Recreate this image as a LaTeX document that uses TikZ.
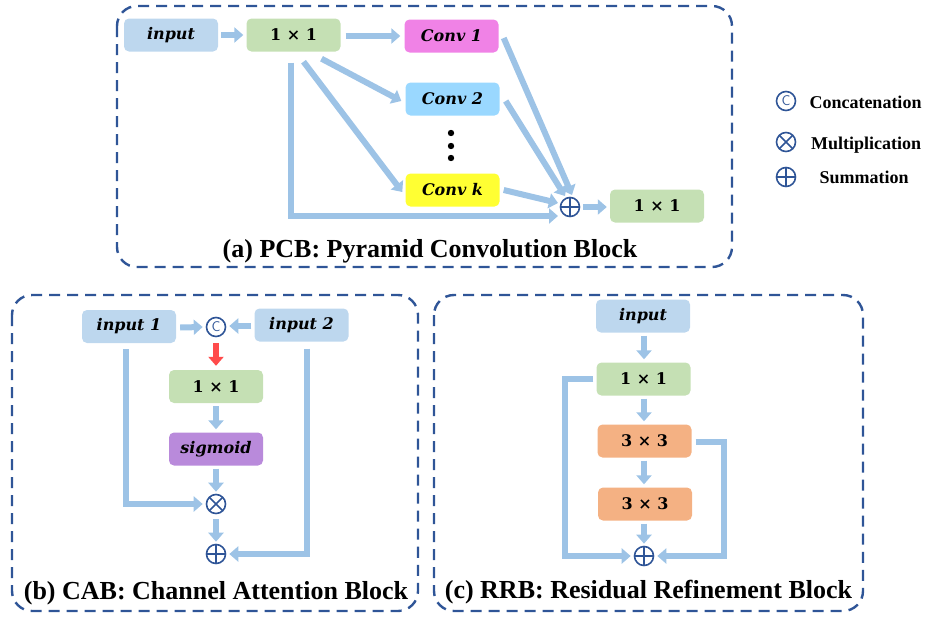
\documentclass[tikz,border=0pt]{standalone}
\usepackage{fontspec}
\setmainfont{Liberation Serif}
\newfontfamily\boxfont{DejaVu Serif}
\usetikzlibrary{arrows.meta,calc}
\definecolor{bblue}{HTML}{BDD7EE}
\definecolor{bgreen}{HTML}{C5E0B4}
\definecolor{cmag}{HTML}{F082E6}
\definecolor{csky}{HTML}{9AD8FF}
\definecolor{cyel}{HTML}{FFFF33}
\definecolor{cpurp}{HTML}{B98ADB}
\definecolor{corange}{HTML}{F4B183}
\definecolor{arrc}{HTML}{9DC3E6}
\definecolor{redc}{HTML}{FF4B4B}
\definecolor{dashc}{HTML}{2F5597}
\definecolor{symc}{HTML}{2F5597}
\tikzset{
  blk/.style={rounded corners=5pt, minimum width=94pt, minimum height=33pt, inner sep=0pt,
    font=\boxfont\bfseries\fontsize{16}{16}\selectfont},
  itx/.style={font=\boxfont\bfseries\itshape\fontsize{16}{16}\selectfont},
  arr/.style={draw=arrc, line width=6pt, -{Triangle[width=15pt,length=9pt]}},
  redarr/.style={draw=redc, line width=6pt, -{Triangle[width=15pt,length=9pt]}},
  panel/.style={draw=dashc, line width=2.4pt, dash pattern=on 11pt off 7pt, rounded corners=20pt},
  sym/.style={circle, draw=symc, line width=1.6pt, minimum size=19pt, inner sep=0pt},
  oplus/.style={sym, path picture={\draw[symc,line width=1.6pt]
     (path picture bounding box.north) -- (path picture bounding box.south)
     (path picture bounding box.west) -- (path picture bounding box.east);}},
  otimes/.style={sym, path picture={\draw[symc,line width=1.6pt]
     (path picture bounding box.north west) -- (path picture bounding box.south east)
     (path picture bounding box.south west) -- (path picture bounding box.north east);}},
  ccat/.style={sym, text=symc, font=\sffamily\fontsize{14}{14}\selectfont},
  ttl/.style={anchor=base, font=\bfseries\fontsize{26}{26}\selectfont},
  leg/.style={anchor=base, font=\bfseries\fontsize{18}{18}\selectfont},
}
\begin{document}
\begin{tikzpicture}[x=1pt,y=-1pt]
\useasboundingbox (0,0) rectangle (925,616);

% ---------------- Panel (a)
\draw[panel] (117,6) rectangle (732,267);
\node[blk,fill=bblue,itx] (ain) at (171,35) {input};
\node[blk,fill=bgreen] (a11) at (293.5,35) {1 × 1};
\node[blk,fill=cmag,itx] (ac1) at (451.5,36) {Conv 1};
\node[blk,fill=csky,itx] (ac2) at (452.5,99) {Conv 2};
\node[blk,fill=cyel,itx] (ack) at (452.5,190) {Conv k};
\node[oplus] (aplus) at (570,207) {};
\node[blk,fill=bgreen] (aout) at (657,206) {1 × 1};
\fill (451,133) circle (3.2pt) (451,146) circle (3.2pt) (451,158) circle (3.2pt);
\node[ttl] (atitle) at (430,257) {(a) PCB: Pyramid Convolution Block};

\draw[arr] ($(ain.east)+(3,0)$) -- ($(a11.west)+(-3,0)$);
\draw[arr] ($(a11.east)+(5,1)$) -- ($(ac1.west)+(-4,0)$);
\draw[arr] ($(a11.south)+(28,7)$) -- ($(ac2.west)+(-4,2)$);
\draw[arr] ($(a11.south)+(10,10)$) -- ($(ack.west)+(-3,2)$);
\draw[arr] ($(a11.south)+(-3,11)$) |- ($(aplus.center)+(-12,9)$);
\draw[arr] ($(ac1.east)+(5,2)$) -- ($(aplus.center)+(2,-12)$);
\draw[arr] ($(ac2.east)+(6,2)$) -- ($(aplus.center)+(-5,-11)$);
\draw[arr] ($(ack.east)+(4,0)$) -- ($(aplus.center)+(-12,-4)$);
\draw[arr] ($(aplus.east)+(3,0)$) -- ($(aout.west)+(-3,1)$);

% ---------------- Legend
\node[ccat] (lcat) at (786,101) {C};
\node[otimes] (ltimes) at (786,142) {};
\node[oplus] (lplus) at (786,177) {};
\node[leg] (lt1) at (865.5,108) {Concatenation};
\node[leg] (lt2) at (866,149) {Multiplication};
\node[leg] (lt3) at (864,183) {Summation};

% ---------------- Panel (b)
\draw[panel] (12,295) rectangle (418,611);
\node[blk,fill=bblue,itx] (bin1) at (129,326.5) {input 1};
\node[blk,fill=bblue,itx] (bin2) at (301.5,325) {input 2};
\node[ccat] (bcat) at (216,327) {C};
\node[blk,fill=bgreen] (b11) at (216,386.5) {1 × 1};
\node[blk,fill=cpurp,itx] (bsig) at (216,449) {sigmoid};
\node[otimes] (btimes) at (216,504) {};
\node[oplus] (bplus) at (216,554) {};
\node[ttl] (btitle) at (216,599) {(b) CAB: Channel Attention Block};

\draw[arr] ($(bin1.east)+(4,1)$) -- ($(bcat.west)+(-3,0)$);
\draw[arr] ($(bin2.west)+(-3,1)$) -- ($(bcat.east)+(3,-1)$);
\draw[redarr] ($(bcat.south)+(0,6)$) -- ($(b11.north)+(0,-4)$);
\draw[arr] ($(b11.south)+(0,3)$) -- ($(bsig.north)+(0,-3)$);
\draw[arr] ($(bsig.south)+(0,3)$) -- ($(btimes.north)+(0,-2)$);
\draw[arr] ($(btimes.south)+(0,5)$) -- ($(bplus.north)+(0,-2)$);
\draw[arr] ($(bin1.south)+(-3,6)$) |- ($(btimes.west)+(-3,0)$);
\draw[arr] ($(bin2.south)+(5,7)$) |- ($(bplus.east)+(3,0)$);

% ---------------- Panel (c)
\draw[panel] (434,295) rectangle (863,611);
\node[blk,fill=bblue,itx] (cin) at (643,316) {input};
\node[blk,fill=bgreen] (c11) at (643.5,379) {1 × 1};
\node[blk,fill=corange] (c33a) at (644.5,441) {3 × 3};
\node[blk,fill=corange] (c33b) at (645,504) {3 × 3};
\node[oplus] (cplus) at (644,556) {};
\node[ttl] (ctitle) at (648.5,598) {(c) RRB: Residual Refinement Block};

\draw[arr] ($(cin.south)+(1,3)$) -- ($(c11.north)+(0.5,-3)$);
\draw[arr] ($(c11.south)+(0.5,3)$) -- ($(c33a.north)+(-0.5,-3)$);
\draw[arr] ($(c33a.south)+(-0.5,3)$) -- ($(c33b.north)+(-1,-3)$);
\draw[arr] ($(c33b.south)+(-1,3)$) -- ($(cplus.north)+(0,-2)$);
\draw[arr] ($(c11.west)+(-3,0)$) -- ++(-28,0) |- ($(cplus.west)+(-3,0)$);
\draw[arr] ($(c33a.east)+(4,1)$) -- ++(28,0) |- ($(cplus.east)+(3,0)$);
\end{tikzpicture}
\end{document}
